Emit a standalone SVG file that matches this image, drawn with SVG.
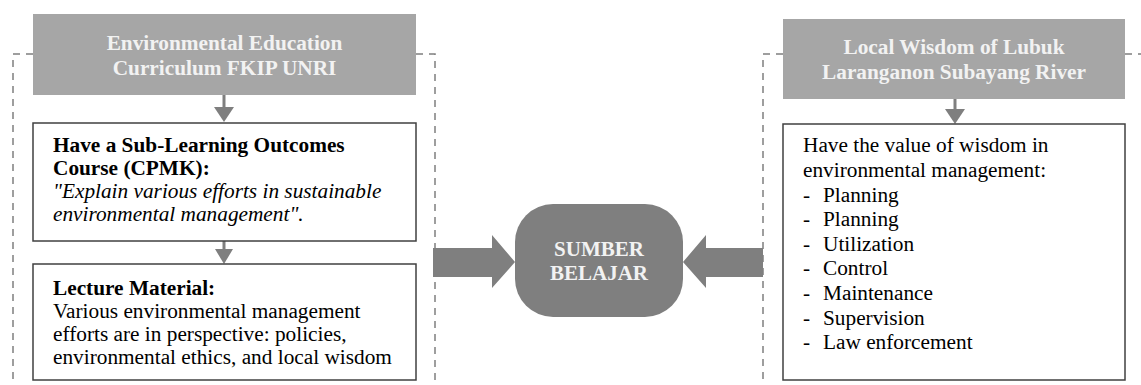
<svg xmlns="http://www.w3.org/2000/svg" width="1141" height="385" viewBox="0 0 1141 385">
<style>
.hdr{fill:#a6a6a6}
.hdrt{font-family:"Liberation Serif","Times New Roman",serif;font-size:21.3px;font-weight:bold;fill:#f2f2f2;text-anchor:middle}
.box{fill:#fff;stroke:#404040;stroke-width:1.5}
.t{font-family:"Liberation Serif","Times New Roman",serif;font-size:21.3px;fill:#000}
.b{font-weight:bold}
.i{font-style:italic}
.dash{fill:none;stroke:#7f7f7f;stroke-width:1.5;stroke-dasharray:7,6}
.conn{stroke:#7f7f7f;stroke-width:3;fill:none}
.head{fill:#7f7f7f}
.pill{fill:#7f7f7f}
.pillt{font-family:"Liberation Serif","Times New Roman",serif;font-size:21px;font-weight:bold;fill:#f2f2f2;text-anchor:middle}
</style>
<g id="frame-left">
<path class="dash" d="M33,54 H13 V385 M416,54 H435 V385"/>
</g>
<g id="frame-right">
<path class="dash" d="M783,54 H763 V385 M1125,54 H1141"/>
</g>
<g id="connectors">
<line class="conn" x1="224" y1="95" x2="224" y2="108"/>
<polygon class="head" points="214,107 234,107 224,122"/>
<line class="conn" x1="224" y1="241" x2="224" y2="250"/>
<polygon class="head" points="215,249 233,249 224,264"/>
<line class="conn" x1="955" y1="99" x2="955" y2="110"/>
<polygon class="head" points="945,109 965,109 955,124"/>
<polygon class="head" points="433,248 492,248 492,235 515,262 492,288 492,277 433,277"/>
<polygon class="head" points="763,248 706,248 706,235 683,262 706,288 706,277 763,277"/>
</g>
<g id="header-left">
<rect class="hdr" x="33" y="14" width="383" height="81"/>
<text class="hdrt" x="224.5" y="50">Environmental Education</text>
<text class="hdrt" x="224.5" y="74.5">Curriculum FKIP UNRI</text>
</g>
<g id="box-cpmk">
<rect class="box" x="33" y="123" width="383" height="118"/>
<text class="t b" x="53" y="152">Have a Sub-Learning Outcomes</text>
<text class="t b" x="53" y="175">Course (CPMK):</text>
<text class="t i" x="53" y="198">"Explain various efforts in sustainable</text>
<text class="t i" x="53" y="221">environmental management".</text>
</g>
<g id="box-lecture">
<rect class="box" x="33" y="264" width="383" height="116"/>
<text class="t b" x="53" y="295">Lecture Material:</text>
<text class="t" x="53" y="318">Various environmental management</text>
<text class="t" x="53" y="341">efforts are in perspective: policies,</text>
<text class="t" x="53" y="364">environmental ethics, and local wisdom</text>
</g>
<g id="sumber-belajar">
<rect class="pill" x="515" y="204" width="168" height="113" rx="38" ry="38"/>
<text class="pillt" x="599" y="256">SUMBER</text>
<text class="pillt" x="599" y="280">BELAJAR</text>
</g>
<g id="header-right">
<rect class="hdr" x="783" y="19" width="342" height="80"/>
<text class="hdrt" x="954" y="54">Local Wisdom of Lubuk</text>
<text class="hdrt" x="954" y="78.5">Laranganon Subayang River</text>
</g>
<g id="box-wisdom">
<rect class="box" x="783" y="124" width="342" height="256"/>
<text class="t" x="803" y="152">Have the value of wisdom in</text>
<text class="t" x="803" y="177">environmental management:</text>
<text class="t" x="803" y="201.5">-</text><text class="t" x="823" y="201.5">Planning</text>
<text class="t" x="803" y="226">-</text><text class="t" x="823" y="226">Planning</text>
<text class="t" x="803" y="250.5">-</text><text class="t" x="823" y="250.5">Utilization</text>
<text class="t" x="803" y="275">-</text><text class="t" x="823" y="275">Control</text>
<text class="t" x="803" y="300">-</text><text class="t" x="823" y="300">Maintenance</text>
<text class="t" x="803" y="324.5">-</text><text class="t" x="823" y="324.5">Supervision</text>
<text class="t" x="803" y="349">-</text><text class="t" x="823" y="349">Law enforcement</text>
</g>
</svg>
